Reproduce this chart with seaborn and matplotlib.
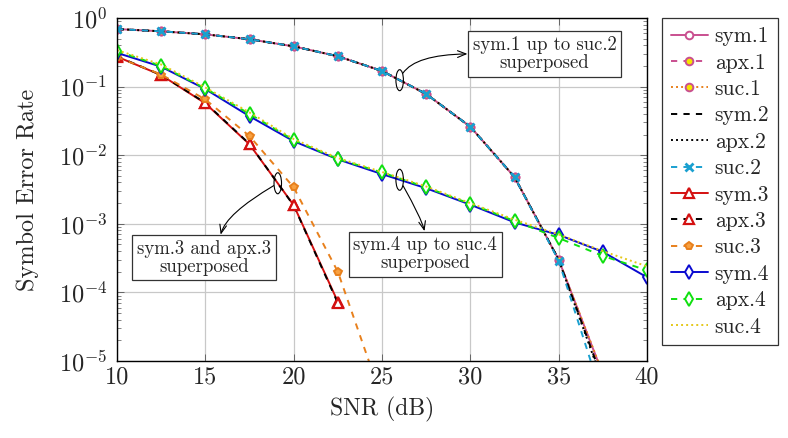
import numpy as np
import pandas as pd
import seaborn as sns
import matplotlib
matplotlib.use("Agg")
import matplotlib.pyplot as plt
from matplotlib.patches import Ellipse
from matplotlib.transforms import ScaledTranslation
from matplotlib.ticker import FixedLocator, FixedFormatter, LogLocator, NullFormatter

# ---------------- data ----------------
snr = [10, 12.5, 15, 17.5, 20, 22.5, 25, 27.5, 30, 32.5, 35, 37.5, 40]

sym1 = [0.69, 0.64, 0.578, 0.49, 0.386, 0.277, 0.169, 0.078, 0.026, 0.0048, 3.0e-4, 6.4e-6]
apx1 = [0.69, 0.64, 0.578, 0.49, 0.386, 0.277, 0.169, 0.078, 0.026, 0.0048, 3.0e-4, 6.2e-6]
suc1 = [0.69, 0.64, 0.578, 0.49, 0.386, 0.277, 0.169, 0.078, 0.026, 0.0048, 3.0e-4, 6.6e-6]
sym2 = [0.69, 0.64, 0.578, 0.49, 0.386, 0.277, 0.169, 0.078, 0.026, 0.0048, 3.0e-4, 5.2e-6]
apx2 = [0.69, 0.64, 0.578, 0.49, 0.386, 0.277, 0.169, 0.078, 0.026, 0.0048, 3.0e-4, 4.8e-6]
suc2 = [0.69, 0.64, 0.578, 0.49, 0.386, 0.277, 0.169, 0.078, 0.026, 0.0048, 2.9e-4, 2.8e-6]

sym3 = [0.273, 0.147, 0.057, 0.0144, 1.87e-3, 7.3e-5]
apx3 = [0.275, 0.148, 0.058, 0.0146, 1.85e-3, 7.0e-5]
suc3 = [0.27, 0.15, 0.065, 0.019, 3.4e-3, 2.0e-4, 2.8e-6]

sym4 = [0.31, 0.195, 0.092, 0.037, 0.016, 8.7e-3, 5.3e-3, 3.3e-3, 1.9e-3, 1.05e-3, 6.9e-4, 3.9e-4, 1.66e-4]
apx4 = [0.33, 0.20, 0.094, 0.040, 0.0166, 8.8e-3, 5.6e-3, 3.4e-3, 1.95e-3, 1.1e-3, 6.2e-4, 3.4e-4, 2.1e-4]
suc4 = [0.34, 0.21, 0.097, 0.042, 0.0172, 9.1e-3, 5.7e-3, 3.5e-3, 2.0e-3, 1.15e-3, 7.0e-4, 4.0e-4, 2.4e-4]

labels = ["sym.1", "apx.1", "suc.1", "sym.2", "apx.2", "suc.2",
          "sym.3", "apx.3", "suc.3", "sym.4", "apx.4", "suc.4"]
series = [sym1, apx1, suc1, sym2, apx2, suc2, sym3, apx3, suc3, sym4, apx4, suc4]

xticks = [10, 15, 20, 25, 30, 35, 40]
yticks = [1e-5, 1e-4, 1e-3, 1e-2, 1e-1, 1e0]
ytick_labels = [r"$10^{-5}$", r"$10^{-4}$", r"$10^{-3}$", r"$10^{-2}$", r"$10^{-1}$", r"$10^{0}$"]

# ---------------- styles ----------------
PINK = "#c94f8f"
ORANGE = "#e8801c"
CYAN = "#1aa0d0"
RED = "#d41010"
BLUE = "#0a0ad0"
GREEN = "#10e010"
YELLOW = "#e4c81a"
DASH = (0, (3.2, 3.2))
DOT = (0, (1, 1.6))

styles = [
    dict(color=PINK, ls="-", marker="o", mfc="white", mec=PINK, ms=5.5, mew=1.4),
    dict(color=PINK, ls=DASH, marker="o", mfc="#f5e400", mec=PINK, ms=5.5, mew=1.4),
    dict(color=ORANGE, ls=DOT, marker="o", mfc="#f5e400", mec=PINK, ms=5.5, mew=1.4),
    dict(color="black", ls=DASH, marker=None),
    dict(color="black", ls=DOT, marker=None),
    dict(color=CYAN, ls=DASH, marker="x", mfc=CYAN, mec=CYAN, ms=6, mew=2.0),
    dict(color=RED, ls="-", marker="^", mfc="white", mec=RED, ms=7, mew=1.6),
    dict(color="black", ls=DASH, marker="^", mfc="white", mec=RED, ms=7, mew=1.6),
    dict(color=ORANGE, ls=DASH, marker="p", mfc="#f8a040", mec=ORANGE, ms=6, mew=1.4),
    dict(color=BLUE, ls="-", marker="d", mfc="white", mec=BLUE, ms=7.5, mew=1.4),
    dict(color=GREEN, ls=DASH, marker="d", mfc="white", mec=GREEN, ms=7.5, mew=1.4),
    dict(color=YELLOW, ls=DOT, marker=None),
]

# ---------------- figure ----------------
sns.set_theme(style="white")
plt.rcParams["font.family"] = ["cmr10", "DejaVu Serif"]
plt.rcParams["mathtext.fontset"] = "cm"
plt.rcParams["axes.formatter.use_mathtext"] = True
plt.rcParams["axes.unicode_minus"] = False

fig = plt.figure(figsize=(7.88, 4.38), dpi=100)
ax = fig.add_axes([117 / 788, 1 - 361 / 438, 530 / 788, 343 / 438])

for lab, vals, st in zip(labels, series, styles):
    df = pd.DataFrame({"snr": snr[:len(vals)], "ser": vals})
    kw = dict(color=st["color"], linestyle=st["ls"], linewidth=1.4)
    if st["marker"] is not None:
        kw.update(marker=st["marker"], markerfacecolor=st["mfc"],
                  markeredgecolor=st["mec"], markersize=st["ms"],
                  markeredgewidth=st["mew"])
    sns.lineplot(data=df, x="snr", y="ser", ax=ax, label=lab, **kw)

ax.set_yscale("log")
ax.set_xlim(10, 40)
ax.set_ylim(1e-5, 1)
ax.xaxis.set_major_locator(FixedLocator(xticks))
ax.set_xticklabels([str(t) for t in xticks])
ax.yaxis.set_major_locator(FixedLocator(yticks))
ax.yaxis.set_major_formatter(FixedFormatter(ytick_labels))
ax.yaxis.set_minor_locator(LogLocator(base=10, subs=np.arange(2, 10), numticks=20))
ax.yaxis.set_minor_formatter(NullFormatter())

ax.grid(True, which="major", color="#c8c8c8", linewidth=0.9)
ax.tick_params(which="both", direction="in", top=True, right=True, left=True, bottom=True,
               labelsize=17.5, color="#555555")
ax.tick_params(which="major", length=5, width=0.6)
ax.tick_params(which="minor", length=3, width=0.5)
ax.tick_params(axis="y", which="major", pad=7)
ax.tick_params(axis="x", which="major", pad=4)
for s in ax.spines.values():
    s.set_color("black")
    s.set_linewidth(1.0)

ax.set_xlabel("SNR (dB)", fontsize=17, labelpad=6)
ax.set_ylabel("Symbol Error Rate", fontsize=17.5, labelpad=14)

leg = ax.legend(loc="upper left", bbox_to_anchor=(662 / 788, 1 - 18 / 438),
                bbox_transform=fig.transFigure, borderaxespad=0, fontsize=15.5,
                frameon=True, fancybox=False, edgecolor="#333333", framealpha=1,
                handlelength=1.75, handletextpad=0.3, labelspacing=0.32,
                borderpad=0.4, markerscale=1.0)
leg.get_frame().set_linewidth(0.9)

# ---------------- annotations ----------------
def curve_val(xs, ys, x0):
    return 10 ** np.interp(x0, xs[:len(ys)], np.log10(ys))

def add_ellipse(x0, y0):
    tr = fig.dpi_scale_trans + ScaledTranslation(x0, y0, ax.transData)
    e = Ellipse((0, 0), width=0.075, height=0.21, fill=False, edgecolor="black",
                linewidth=0.8, transform=tr, zorder=20)
    ax.add_patch(e)
    return e

box = dict(boxstyle="square,pad=0.25", facecolor="white", edgecolor="#333333", linewidth=0.9)
head = "<-,head_length=0.45,head_width=0.18"

x1 = 26.0
e1 = add_ellipse(x1, curve_val(snr, sym1, x1))
ax.annotate("sym.1 up to suc.2\nsuperposed", xy=(x1, curve_val(snr, sym1, x1)),
            xytext=(34.2, 0.30), ha="center", va="center", fontsize=13.5,
            linespacing=1.0, bbox=box, zorder=21,
            arrowprops=dict(arrowstyle=head, color="black", lw=0.8, patchB=e1,
                            shrinkA=0, shrinkB=0, relpos=(0, 0.5),
                            connectionstyle="angle3,angleA=0,angleB=75"))

x2 = 26.0
e2 = add_ellipse(x2, curve_val(snr, sym4, x2))
ax.annotate("sym.4 up to suc.4\nsuperposed", xy=(x2, curve_val(snr, sym4, x2)),
            xytext=(27.45, 3.6e-4), ha="center", va="center", fontsize=13.5,
            linespacing=1.0, bbox=box, zorder=21,
            arrowprops=dict(arrowstyle=head, color="black", lw=0.8, patchB=e2,
                            shrinkA=0, shrinkB=0, relpos=(0.5, 1),
                            connectionstyle="angle3,angleA=90,angleB=-60"))

x3 = 19.1
e3 = add_ellipse(x3, curve_val(snr, sym3, x3))
ax.annotate("sym.3 and apx.3\nsuperposed", xy=(x3, curve_val(snr, sym3, x3)),
            xytext=(14.92, 3.2e-4), ha="center", va="center", fontsize=13.5,
            linespacing=1.0, bbox=box, zorder=21,
            arrowprops=dict(arrowstyle=head, color="black", lw=0.8, patchB=e3,
                            shrinkA=0, shrinkB=0, relpos=(0.62, 1),
                            connectionstyle="angle3,angleA=90,angleB=30"))

fig.savefig("out.png", dpi=100)
